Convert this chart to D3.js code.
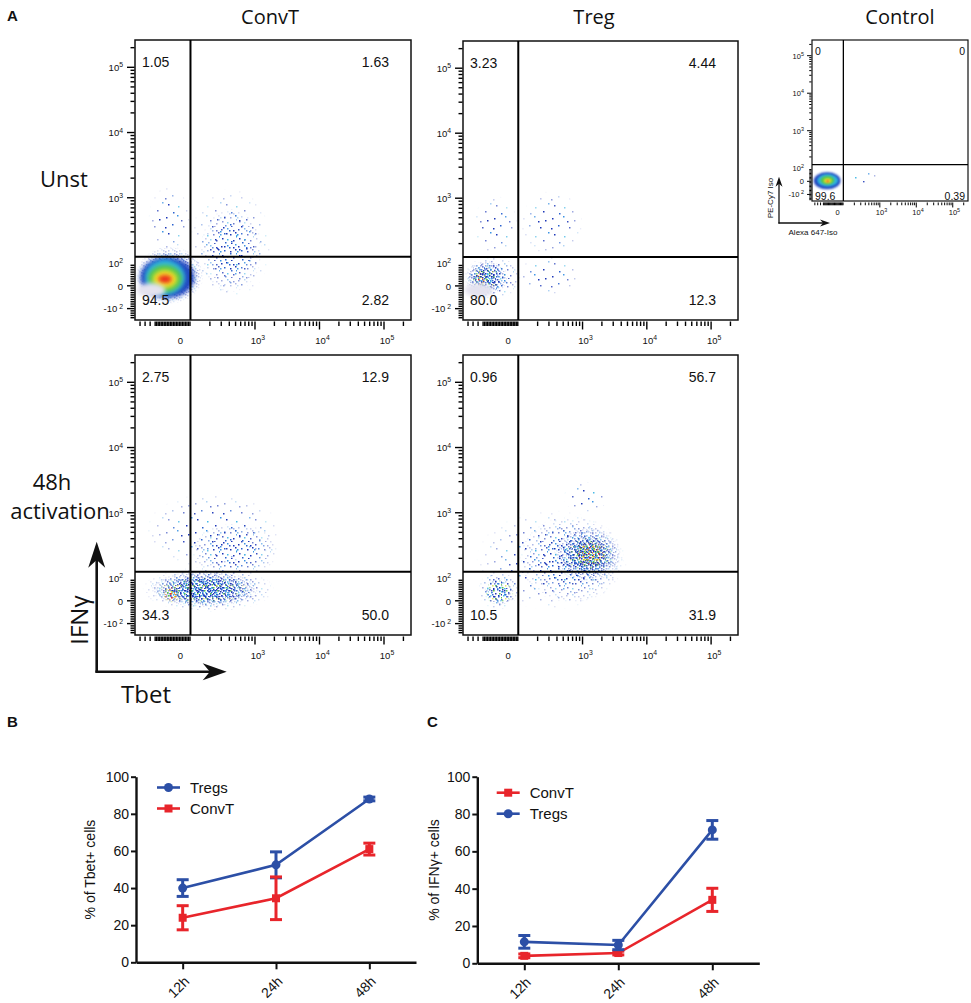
<!DOCTYPE html>
<html>
<head>
<meta charset="utf-8">
<script src="https://cdn.jsdelivr.net/npm/d3@7"></script>
<style>
  body { margin: 0; background: #fff; }
  svg { display: block; }
  text { font-family: "Liberation Sans", Arial, sans-serif; fill: #111; }
  .title { font-family: "Open Sans", sans-serif; }
</style>
</head>
<body>
<svg id="fig" width="971" height="1003"></svg>
<script>
// ---------- data ----------
var columnTitles = ["ConvT", "Treg", "Control"];
var rowTitles = [["Unst"], ["48h", "activation"]];

var flowXTicks = [0, 1e3, 1e4, 1e5];
var flowYTicks = [-100, 0, 1e2, 1e3, 1e4, 1e5];
var flowTop = 262144;
var gateX = 100, gateY = 125;

// quadrant frequencies (%): upper-left, upper-right, lower-left, lower-right
var convtUnstQuad = ["1.05", "1.63", "94.5", "2.82"];
var tregUnstQuad = ["3.23", "4.44", "80.0", "12.3"];
var convt48Quad = ["2.75", "12.9", "34.3", "50.0"];
var treg48Quad = ["0.96", "56.7", "10.5", "31.9"];
var controlQuad = ["0", "0", "99.6", "0.39"];

// cell populations: [x from, x to, y from, y to, density]
var convtUnstPops = [
  [-320, 95, 140, 1500, "sparse"],
  [95, 1800, -60, 1400, "sparse"],
  [140, 1300, -30, 700, "medium"],
  [-440, 160, -80, 180, "dense"],
  [-400, 115, -53, 124, "blue"],
  [-351, 45, -40, 113, "cyan"],
  [-321, 16, -27, 91, "green"],
  [-272, -34, -10, 69, "yellow"],
  [-222, -83, 12, 47, "red"],
  [-430, -150, -50, 12, "pale"]
];
var tregUnstPops = [
  [-350, 95, 130, 1100, "sparse"],
  [110, 1000, 130, 1300, "sparse"],
  [95, 900, -40, 130, "sparse"],
  [-440, 110, -60, 130, "medium"],
  [-430, 0, -40, 110, "dense"],
  [-400, -60, -20, 90, "mixed"],
  [-340, -200, 5, 60, "warm"],
  [-430, -150, -50, 12, "pale"]
];
var convt48Pops = [
  [-350, 2500, 140, 2000, "sparse"],
  [100, 2300, 100, 700, "medium"],
  [-380, 2000, -50, 150, "medium"],
  [-300, 1200, -30, 130, "dense"],
  [-260, 900, -15, 110, "mixed"],
  [-180, 0, -10, 70, "warm"],
  [-140, -20, 5, 55, "warm"]
];
var treg48Pops = [
  [500, 2500, 1000, 3000, "sparse"],
  [-320, 5000, -40, 1100, "sparse"],
  [100, 4500, -10, 900, "medium"],
  [-300, 100, -40, 130, "medium"],
  [-240, 60, -20, 100, "mixed"],
  [350, 4000, 80, 600, "dense"],
  [500, 3200, 110, 450, "mixed"],
  [700, 2500, 140, 380, "warm"]
];
var controlPops = [
  [130, 900, -30, 90, "sparse"],
  [-420, 50, -60, 70, "blue"],
  [-360, 10, -40, 55, "cyan"],
  [-300, -60, -25, 40, "green"],
  [-240, -110, -12, 22, "yellow"],
  [-200, -150, -6, 8, "red"]
];

// time course (% positive, mean and error)
var timepoints = ["12h", "24h", "48h"];
var tbetTregs = [40, 52.5, 88];
var tbetTregsErr = [4.5, 7, 1];
var tbetConvT = [24, 34.5, 61];
var tbetConvTErr = [6.5, 11.5, 3.2];
var ifngConvT = [4, 5.5, 34];
var ifngConvTErr = [1, 1, 6.2];
var ifngTregs = [11.5, 9.8, 71.5];
var ifngTregsErr = [3.4, 2.5, 5];
var percentTicks = [0, 20, 40, 60, 80, 100];

// ---------- drawing ----------
var svg = d3.select("#fig");
svg.append("rect").attr("width", 971).attr("height", 1003).attr("fill", "#fff");
var defs = svg.append("defs");

var BLUE = "#2c4fa6", RED = "#e8252b";

// speckle textures for the density plots
var cB = "#1c36b8", cM = "#2a62d0", cL = "#3b93e4", cC = "#46b9e6", cG = "#5cc84a",
    cY = "#d8e030", cO = "#f08a24", cR = "#e8321e";
var speckles = {
  "sp-sparse": {size: 29, dots: [[2,3,cB],[13,1,cL],[24,5,cB],[8,10,cM],[19,12,cB],[27,17,cL],[4,19,cB],[14,21,cC],[22,25,cB],[9,27,cM],[1,13,cB],[17,6,cB]]},
  "sp-medium": {size: 17, dots: [[1,2,cB],[7,1,cL],[13,3,cB],[4,6,cM],[10,7,cB],[16,9,cL],[2,11,cB],[7,12,cC],[13,13,cB],[5,15,cM],[11,16,cB],[15,5,cB],[0,7,cL],[9,3,cM]]},
  "sp-dense": {size: 11, dots: [[0,1,cB],[4,0,cM],[8,2,cB],[2,4,cL],[6,4,cB],[10,6,cM],[1,7,cB],[5,8,cL],[9,9,cB],[3,10,cM],[7,10,cB],[4,6,cC],[8,5,cB],[0,4,cM],[6,1,cB],[2,9,cB]]},
  "sp-mixed": {size: 13, dots: [[0,0,cB],[4,1,cG],[8,0,cM],[12,2,cC],[2,3,cL],[6,4,cB],[10,4,cG],[1,6,cC],[5,7,cB],[9,7,cM],[12,8,cG],[3,9,cY],[7,10,cB],[11,11,cC],[0,11,cG],[4,12,cB],[8,12,cL],[2,1,cB],[10,1,cB],[6,9,cG],[12,5,cB],[3,5,cM]]},
  "sp-warm": {size: 10, dots: [[0,1,cO],[3,0,cG],[6,2,cR],[9,1,cY],[1,4,cY],[4,4,cO],[7,5,cB],[9,7,cO],[2,7,cG],[5,8,cR],[8,9,cC],[0,9,cO],[6,6,cY]]}
};
Object.keys(speckles).forEach(function(id) {
  var s = speckles[id];
  var pat = defs.append("pattern").attr("id", id).attr("patternUnits", "userSpaceOnUse")
    .attr("width", s.size).attr("height", s.size);
  pat.selectAll("rect").data(s.dots).join("rect")
    .attr("x", function(d) { return d[0]; }).attr("y", function(d) { return d[1]; })
    .attr("width", 1.5).attr("height", 1.5).attr("fill", function(d) { return d[2]; });
});
var fg = defs.append("radialGradient").attr("id", "fadeGrad");
fg.append("stop").attr("offset", 0).attr("stop-color", "#fff");
fg.append("stop").attr("offset", 0.45).attr("stop-color", "#fff");
fg.append("stop").attr("offset", 1).attr("stop-color", "#000");
defs.append("mask").attr("id", "fade").attr("maskContentUnits", "objectBoundingBox")
  .append("rect").attr("width", 1).attr("height", 1).attr("fill", "url(#fadeGrad)");
defs.append("filter").attr("id", "blurL").attr("x", "-50%").attr("y", "-50%").attr("width", "200%").attr("height", "200%")
  .append("feGaussianBlur").attr("stdDeviation", 2.2);
defs.append("filter").attr("id", "blurS").attr("x", "-50%").attr("y", "-50%").attr("width", "200%").attr("height", "200%")
  .append("feGaussianBlur").attr("stdDeviation", 1.1);

var kindStyle = {
  sparse: {fill: "url(#sp-sparse)", fade: true},
  medium: {fill: "url(#sp-medium)", fade: true},
  dense: {fill: "url(#sp-dense)", fade: true},
  mixed: {fill: "url(#sp-mixed)", fade: true},
  warm: {fill: "url(#sp-warm)", fade: true},
  blue: {fill: "#2346c0"},
  cyan: {fill: "#2fb4e0"},
  green: {fill: "#58c84a"},
  yellow: {fill: "#f2e22a"},
  red: {fill: "#ec2d1f"},
  pale: {fill: "#e4e2ef"}
};

// biexponential-like axis: linear below 10^2, log above
function flowScale(p0, p1, lo, linFrac) {
  var p100 = p0 + (p1 - p0) * linFrac;
  var lin = d3.scaleLinear().domain([lo, 100]).range([p0, p100]);
  var log = d3.scaleLog().domain([100, flowTop]).range([p100, p1]);
  return function(v) { return v < 100 ? lin(v) : log(v); };
}

var logMinor = [];
[100, 1000, 10000, 100000].forEach(function(b) {
  for (var m = 1; m < 10; m++) if (m * b > 100 && m * b <= flowTop) logMinor.push(m * b);
});
var xMinor = [-400, -350, -300].concat(d3.range(-250, 100, 15), logMinor);
var yMinor = d3.range(-140, 100, 10).concat(logMinor);

function powText(sel, v) {
  if (v === 0) { sel.text("0"); return; }
  var e = Math.round(Math.log10(Math.abs(v)));
  sel.text(v < 0 ? "-10" : "10");
  sel.append("tspan").attr("dy", "-0.55em").attr("font-size", "0.72em").text((v < 0 ? " " : "") + e);
}

var flowPanels = [
  {name: "convtUnst", x: 135, y: 40, w: 276, h: 280, quad: convtUnstQuad, pops: convtUnstPops},
  {name: "tregUnst", x: 463, y: 41, w: 275, h: 279, quad: tregUnstQuad, pops: tregUnstPops},
  {name: "convt48", x: 135, y: 355, w: 276, h: 280, quad: convt48Quad, pops: convt48Pops},
  {name: "treg48", x: 463, y: 355, w: 275, h: 280, quad: treg48Quad, pops: treg48Pops},
  {name: "control", x: 812, y: 40, w: 156, h: 161, quad: controlQuad, pops: controlPops}
];

flowPanels.forEach(function(p) {
  var k = p.w / 276, small = k < 0.8;
  var g = svg.append("g").attr("transform", "translate(" + p.x + "," + p.y + ")");
  var sx = flowScale(0, p.w, -450, 0.201);
  var sy = flowScale(p.h, 0, -150, 0.2036);

  g.append("clipPath").attr("id", "clip-" + p.name)
    .append("rect").attr("width", p.w).attr("height", p.h);
  var cells = g.append("g").attr("clip-path", "url(#clip-" + p.name + ")");
  cells.selectAll("ellipse").data(p.pops).join("ellipse")
    .attr("cx", function(d) { return (sx(d[0]) + sx(d[1])) / 2; })
    .attr("cy", function(d) { return (sy(d[2]) + sy(d[3])) / 2; })
    .attr("rx", function(d) { return Math.abs(sx(d[1]) - sx(d[0])) / 2; })
    .attr("ry", function(d) { return Math.abs(sy(d[3]) - sy(d[2])) / 2; })
    .attr("fill", function(d) { return kindStyle[d[4]].fill; })
    .attr("mask", function(d) { return kindStyle[d[4]].fade ? "url(#fade)" : null; })
    .attr("filter", function(d) { return kindStyle[d[4]].fade ? null : (small ? "url(#blurS)" : "url(#blurL)"); });

  // frame and quadrant gates
  g.append("rect").attr("width", p.w).attr("height", p.h)
    .attr("fill", "none").attr("stroke", "#111").attr("stroke-width", small ? 1.2 : 1.5);
  g.append("line").attr("x1", sx(gateX)).attr("x2", sx(gateX)).attr("y1", 0).attr("y2", p.h)
    .attr("stroke", "#000").attr("stroke-width", small ? 1.3 : 2);
  g.append("line").attr("x1", 0).attr("x2", p.w).attr("y1", sy(gateY)).attr("y2", sy(gateY))
    .attr("stroke", "#000").attr("stroke-width", small ? 1.3 : 2);

  // ticks
  var major = 7 * k + 1, minor = 4 * k + 0.5;
  var ticks = g.append("g").attr("stroke", "#000").attr("stroke-width", small ? 1 : 1.4);
  ticks.selectAll(".yt").data(yMinor).join("line").attr("class", "yt")
    .attr("x1", function(d) { return -(flowYTicks.indexOf(d) >= 0 ? major : minor); }).attr("x2", -0.5)
    .attr("y1", function(d) { return sy(d); }).attr("y2", function(d) { return sy(d); });
  ticks.selectAll(".xt").data(xMinor).join("line").attr("class", "xt")
    .attr("y1", p.h + 1.5).attr("y2", function(d) { return p.h + 1.5 + (flowXTicks.indexOf(d) >= 0 ? major : minor); })
    .attr("x1", function(d) { return sx(d); }).attr("x2", function(d) { return sx(d); });

  var fs = small ? 7.5 : 9.5;
  g.selectAll(".yl").data(flowYTicks).join("text").attr("class", "yl")
    .attr("x", -9 * k - 3).attr("y", function(d) { return sy(d); }).attr("dy", "0.4em")
    .attr("text-anchor", "end").attr("font-size", fs)
    .each(function(d) { powText(d3.select(this), d); });
  g.selectAll(".xl").data(flowXTicks).join("text").attr("class", "xl")
    .attr("x", function(d) { return sx(d) + (d === 0 ? 0 : 3 * k); }).attr("y", p.h + 22 * k + 2)
    .attr("text-anchor", "middle").attr("font-size", fs)
    .each(function(d) { powText(d3.select(this), d); });

  // quadrant frequencies
  var qs = small ? 10.5 : 14;
  var inset = small ? 3 : 7, rinset = small ? 3 : 22;
  var top = small ? 15 : 27, bot = small ? 1.5 : 15;
  var qpos = [[inset, top, "start"], [p.w - rinset, top, "end"], [inset, p.h - bot, "start"], [p.w - rinset, p.h - bot, "end"]];
  g.selectAll(".q").data(p.quad).join("text").attr("class", "q")
    .attr("x", function(d, i) { return qpos[i][0]; }).attr("y", function(d, i) { return qpos[i][1]; })
    .attr("text-anchor", function(d, i) { return qpos[i][2]; })
    .attr("font-size", qs).text(function(d) { return d; });
});

// column and row titles
var colX = [270, 594, 900];
svg.selectAll(".ct").data(columnTitles).join("text").attr("class", "ct title")
  .attr("x", function(d, i) { return colX[i]; }).attr("y", 24)
  .attr("text-anchor", "middle").attr("font-size", 20).text(function(d) { return d; });
svg.append("text").attr("class", "title").attr("x", 64).attr("y", 187).attr("text-anchor", "middle")
  .attr("font-size", 22).text(rowTitles[0][0]);
svg.append("text").attr("class", "title").attr("x", 52).attr("y", 490).attr("text-anchor", "middle")
  .attr("font-size", 22).text(rowTitles[1][0]);
svg.append("text").attr("class", "title").attr("x", 60).attr("y", 519).attr("text-anchor", "middle")
  .attr("font-size", 22).text(rowTitles[1][1]);

// panel letters
[["A", 7, 21], ["B", 7, 727], ["C", 427, 727]].forEach(function(l) {
  svg.append("text").attr("x", l[1]).attr("y", l[2]).attr("font-size", 15)
    .attr("font-weight", "bold").text(l[0]);
});

// axis arrows
function arrow(x1, y1, x2, y2, len, half, sw) {
  var a = Math.atan2(y2 - y1, x2 - x1), c = Math.cos(a), s = Math.sin(a);
  svg.append("line").attr("x1", x1).attr("y1", y1)
    .attr("x2", x2 - c * len * 0.6).attr("y2", y2 - s * len * 0.6)
    .attr("stroke", "#111").attr("stroke-width", sw);
  var bx = x2 - c * len, by = y2 - s * len, nx = x2 - c * len * 0.7, ny = y2 - s * len * 0.7;
  svg.append("path").attr("fill", "#111").attr("d",
    "M" + x2 + "," + y2 + "L" + (bx - s * half) + "," + (by + c * half) +
    "L" + nx + "," + ny + "L" + (bx + s * half) + "," + (by - c * half) + "Z");
}
arrow(96.7, 672.5, 96.7, 541.7, 26, 8.5, 2.6);
arrow(95.4, 671.7, 226.7, 671.7, 24, 8.5, 2.6);
svg.append("text").attr("class", "title").attr("transform", "translate(88,620) rotate(-90)")
  .attr("text-anchor", "middle").attr("font-size", 24).text("IFNγ");
svg.append("text").attr("class", "title").attr("x", 146).attr("y", 703)
  .attr("text-anchor", "middle").attr("font-size", 24).text("Tbet");

arrow(779, 223.5, 779, 176.7, 10, 3.5, 1.3);
arrow(778.4, 223, 830, 223, 10, 3.5, 1.3);
svg.append("text").attr("transform", "translate(773,198) rotate(-90)")
  .attr("text-anchor", "middle").attr("font-size", 8).text("PE-Cy7 Iso");
svg.append("text").attr("x", 813).attr("y", 235)
  .attr("text-anchor", "middle").attr("font-size", 8).text("Alexa 647-Iso");

// ---------- time course charts ----------
function marker(sel, s, fx, fy) {
  if (s.shape === "circle") {
    sel.append("circle").attr("r", 4.5).attr("fill", s.color)
      .attr("cx", fx).attr("cy", fy);
  } else {
    sel.append("rect").attr("width", 8).attr("height", 8).attr("fill", s.color)
      .attr("x", function(d) { return fx(d) - 4; }).attr("y", function(d) { return fy(d) - 4; });
  }
}

function timeChart(o) {
  var x = d3.scalePoint().domain(timepoints).range([o.x0, o.x1]).padding(0.5);
  var y = d3.scaleLinear().domain([0, 100]).range([o.yb, o.yt]);
  var g = svg.append("g");

  var ya = g.append("g").attr("transform", "translate(" + o.x0 + ",0)")
    .call(d3.axisLeft(y).tickValues(percentTicks).tickSize(5).tickSizeOuter(0));
  var xa = g.append("g").attr("transform", "translate(0," + o.yb + ")")
    .call(d3.axisBottom(x).tickSize(7).tickSizeOuter(0));
  [ya, xa].forEach(function(a) {
    a.select(".domain").attr("stroke", "#111").attr("stroke-width", 2.4);
    a.selectAll(".tick line").attr("stroke", "#111").attr("stroke-width", 2);
    a.selectAll("text").attr("font-size", 14).attr("fill", "#111")
      .attr("font-family", "'Liberation Sans', Arial, sans-serif");
  });
  ya.selectAll("text").attr("x", -7);
  xa.selectAll("text").attr("text-anchor", "end").attr("dy", "0").attr("y", "0").attr("x", "0")
    .attr("transform", "translate(7,20) rotate(-45)");

  g.append("text").attr("transform", "translate(" + o.titleX + "," + (o.yt + o.yb) / 2 + ") rotate(-90)")
    .attr("text-anchor", "middle").attr("font-size", 14).text(o.title);

  o.series.forEach(function(s) {
    var pts = timepoints.map(function(t, i) { return {t: t, v: s.values[i], e: s.err[i]}; });
    g.append("path").datum(pts).attr("fill", "none").attr("stroke", s.color).attr("stroke-width", 2.6)
      .attr("d", d3.line().x(function(d) { return x(d.t); }).y(function(d) { return y(d.v); }));
    var eb = g.append("g").attr("stroke", s.color).attr("stroke-width", 3);
    eb.selectAll(".v").data(pts).join("line").attr("class", "v")
      .attr("x1", function(d) { return x(d.t); }).attr("x2", function(d) { return x(d.t); })
      .attr("y1", function(d) { return y(d.v - d.e); }).attr("y2", function(d) { return y(d.v + d.e); });
    eb.selectAll(".cap").data(pts.concat(pts)).join("line").attr("class", "cap")
      .attr("x1", function(d) { return x(d.t) - 6; }).attr("x2", function(d) { return x(d.t) + 6; })
      .attr("y1", function(d, i) { return y(i < 3 ? d.v - d.e : d.v + d.e); })
      .attr("y2", function(d, i) { return y(i < 3 ? d.v - d.e : d.v + d.e); });
    marker(g.selectAll(".m" + s.name).data(pts).join("g"), s, function(d) { return x(d.t); }, function(d) { return y(d.v); });
  });

  o.series.forEach(function(s, i) {
    var ly = o.legendY + i * 21;
    svg.append("line").attr("x1", o.legendX).attr("x2", o.legendX + 23).attr("y1", ly).attr("y2", ly)
      .attr("stroke", s.color).attr("stroke-width", 2.6);
    marker(svg.append("g").datum({}), s, function() { return o.legendX + 11.5; }, function() { return ly; });
    svg.append("text").attr("x", o.legendX + 33).attr("y", ly + 5.5).attr("font-size", 15).text(s.name);
  });
}

timeChart({
  x0: 136, x1: 416, yb: 962.3, yt: 776.7, titleX: 95, title: "% of Tbet+ cells",
  legendX: 157, legendY: 787.5,
  series: [
    {name: "Tregs", values: tbetTregs, err: tbetTregsErr, color: BLUE, shape: "circle"},
    {name: "ConvT", values: tbetConvT, err: tbetConvTErr, color: RED, shape: "square"}
  ]
});
timeChart({
  x0: 477.3, x1: 759.3, yb: 963.3, yt: 776.7, titleX: 439, title: "% of IFNγ+ cells",
  legendX: 496.7, legendY: 792.7,
  series: [
    {name: "ConvT", values: ifngConvT, err: ifngConvTErr, color: RED, shape: "square"},
    {name: "Tregs", values: ifngTregs, err: ifngTregsErr, color: BLUE, shape: "circle"}
  ]
});
</script>
</body>
</html>
